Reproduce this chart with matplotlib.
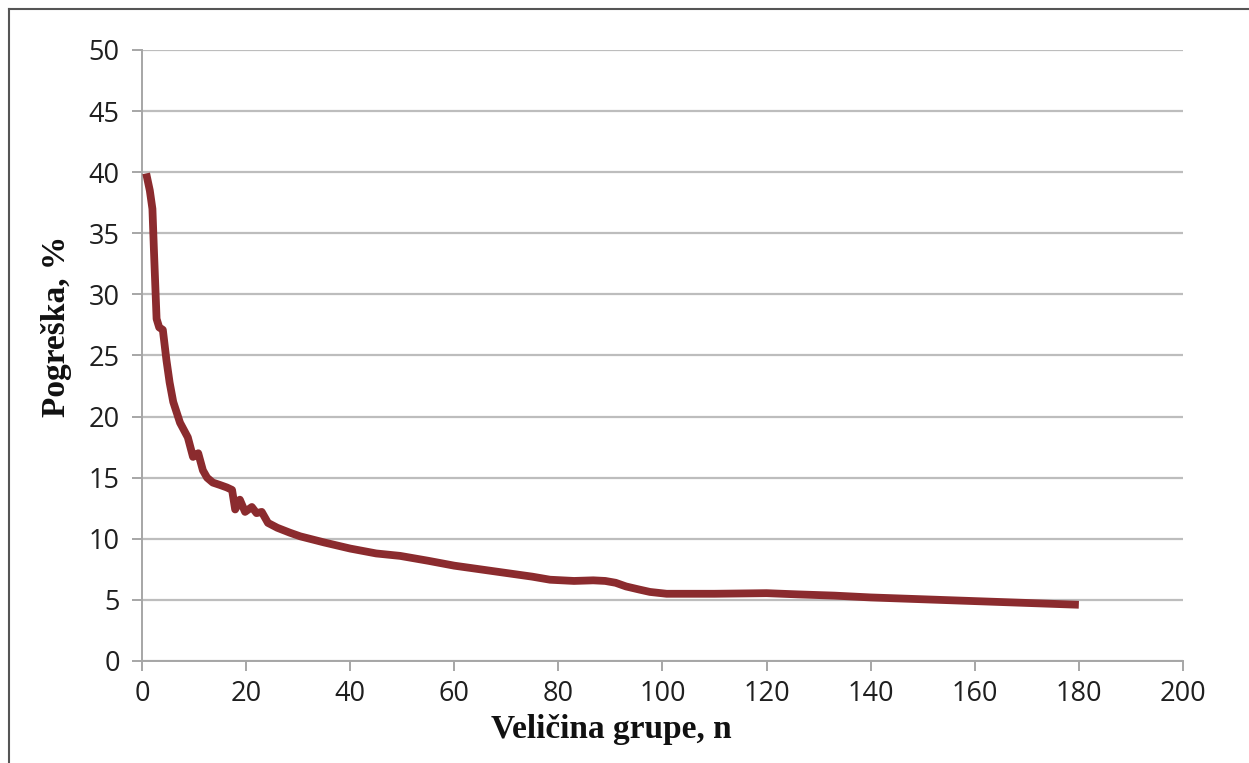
import numpy as np
import matplotlib.pyplot as plt
from matplotlib.lines import Line2D

# Group size n and error (%)
n_values = [0.8, 1.5, 2.0, 2.3, 2.8, 3.3, 4.0, 4.7, 5.3, 6.0, 7.3, 8.8, 9.8, 10.8,
            11.7, 12.5, 13.6, 15.0, 16.3, 17.3, 17.9, 18.8, 19.8, 21.1, 22.0, 23.0,
            24.2, 26.0, 28.4, 30.4, 35.0, 40.0, 45.0, 49.6, 55.0, 60.0, 65.0, 70.0,
            75.0, 78.4, 83.0, 86.7, 89.0, 91.0, 93.0, 95.5, 97.6, 100.8, 110.0, 120.0,
            126.0, 133.0, 140.0, 150.0, 160.0, 170.0, 180.0]
error_values = [39.9, 38.5, 37.0, 33.5, 28.0, 27.3, 27.1, 24.6, 22.8, 21.2, 19.5, 18.3,
                16.7, 17.0, 15.6, 15.0, 14.6, 14.4, 14.2, 14.0, 12.4, 13.2, 12.2, 12.6,
                12.1, 12.2, 11.3, 10.9, 10.5, 10.2, 9.7, 9.2, 8.8, 8.6, 8.2, 7.8, 7.5,
                7.2, 6.9, 6.65, 6.55, 6.6, 6.55, 6.4, 6.1, 5.85, 5.65, 5.5, 5.5, 5.55,
                5.45, 5.35, 5.2, 5.05, 4.9, 4.75, 4.6]

x_ticks = [0, 20, 40, 60, 80, 100, 120, 140, 160, 180, 200]
y_ticks = [0, 5, 10, 15, 20, 25, 30, 35, 40, 45, 50]

fig = plt.figure(figsize=(12.49, 7.63), dpi=100)
ax = fig.add_axes([0.1137, 0.1337, 0.8334, 0.8008])

ax.plot(n_values, error_values, color='#8B2B2E', linewidth=5.6,
        solid_capstyle='butt', solid_joinstyle='round', zorder=3)

ax.set_xlim(0, 200)
ax.set_ylim(0, 50)
ax.set_xticks(x_ticks)
ax.set_yticks(y_ticks)
ax.grid(axis='y', color='#BDBDBD', linewidth=1.6)
ax.set_axisbelow(True)

for side in ['top', 'right']:
    ax.spines[side].set_visible(False)
for side in ['left', 'bottom']:
    ax.spines[side].set_color('#A6A6A6')
    ax.spines[side].set_linewidth(1.4)

ax.tick_params(axis='both', colors='#A6A6A6', length=7, width=1.4,
               labelcolor='#1F1F1F', labelsize=19.5)
ax.tick_params(axis='x', pad=7)
ax.tick_params(axis='y', pad=9)
for lbl in ax.get_xticklabels() + ax.get_yticklabels():
    lbl.set_family('Open Sans')

fig.text(611 / 1249, 1 - 738 / 763, 'Veličina grupe, n', ha='center', va='baseline',
         family='Liberation Serif', fontweight='bold', fontsize=24, color='#111111')
fig.text(57 / 1249, 1 - 326 / 763, 'Pogreška, %', ha='center', va='center',
         rotation=90, family='Liberation Serif', fontweight='bold', fontsize=24,
         color='#111111')

# thin frame round the picture (left and top edges only visible)
fig.add_artist(Line2D([9 / 1249, 9 / 1249], [0, 1 - 9 / 763], transform=fig.transFigure,
                      color='#555555', linewidth=1.5))
fig.add_artist(Line2D([9 / 1249, 1], [1 - 9 / 763, 1 - 9 / 763], transform=fig.transFigure,
                      color='#555555', linewidth=1.5))

fig.savefig('out.png', dpi=100)
